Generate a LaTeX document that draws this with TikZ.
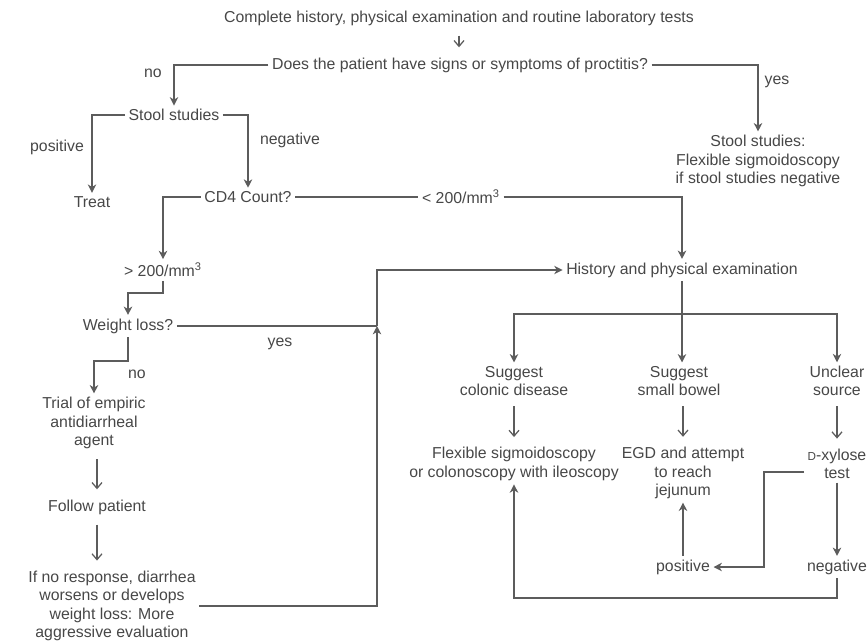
\documentclass[tikz,border=0pt]{standalone}
\usepackage{fontspec}
\setmainfont{Liberation Sans}
\usetikzlibrary{positioning}
\usetikzlibrary{calc}
\usetikzlibrary{arrows.meta}
\definecolor{ink}{HTML}{474747}
\definecolor{wire}{HTML}{5C5C5C}
\tikzset{
  txt/.style            = { text=ink, inner sep=2pt, font=\fontsize{9.5}{11.1}\selectfont },
  block/.style          = { txt, align=center },
  tag/.style            = { txt },
}
\tikzset{
  link/.style           = { draw=wire, line width=0.9pt },
  flow/.style           = { link, -{Stealth[length=5pt,width=5pt,inset=1.5pt]} },
  shortflow/.style      = { link, line width=0.75pt, -{Straight Barb[length=3.5pt,width=6pt]},
                            shorten >=4pt, shorten <=4pt },
  plain/.style          = { link, - }
}
\newcommand{\dsc}{{\fontsize{7}{8}\selectfont D}}

\begin{document}
\begin{tikzpicture}[x=0.6pt, y=-0.6pt]
  \useasboundingbox (0,0) rectangle (868,641);

  \node (start)    [block] at (459,18)  {Complete history, physical examination and routine laboratory tests};
  \node (proctq)   [block] at (460,65)  {Does the patient have signs or symptoms of proctitis?};
  \node (stool)    [block] at (174,115) {Stool studies};
  \node (proctyes) [block] at (758,161) {Stool studies:\\Flexible sigmoidoscopy\\if stool studies negative};
  \node (treat)    [block] at (92,202)  {Treat};
  \node (cd4)      [block] at (248,197) {CD4 Count?};
  \node (low)      [block] at (461,197) {< 200/mm\textsuperscript{3}};
  \node (high)     [block] at (163,270) {> 200/mm\textsuperscript{3}};
  \node (hist)     [block] at (682,270) {History and physical examination};
  \node (weight)   [block] at (128,326) {Weight loss?};
  \node (colonic)  [block] at (514,381) {Suggest\\colonic disease};
  \node (bowel)    [block] at (679,381) {Suggest\\small bowel};
  \node (unclear)  [block] at (837,381) {Unclear\\source};
  \node (trial)    [block] at (94,423)  {Trial of empiric\\antidiarrheal\\agent};
  \node (flex)     [block] at (514,464) {Flexible sigmoidoscopy\\or colonoscopy with ileoscopy};
  \node (egd)      [block] at (683,473) {EGD and attempt\\to reach\\jejunum};
  \node (xylose)   [block] at (837,464) {\dsc-xylose\\test};
  \node (follow)   [block] at (97,507)  {Follow patient};
  \node (xpos)     [block] at (683,567) {positive};
  \node (xneg)     [block] at (837,567) {negative};
  \node (noresp)   [block] at (112,606) {If no response, diarrhea\\worsens or develops\\weight loss: More\\aggressive evaluation};

  \node (no1)   [tag] at (153,73)  {no};
  \node (yes1)  [tag] at (777,82)  {yes};
  \node (pos1)  [tag] at (57,147)  {positive};
  \node (neg1)  [tag] at (290,140) {negative};
  \node (yes2)  [tag] at (280,344) {yes};
  \node (no2)   [tag] at (137,374) {no};

  \coordinate (join) at (377,326);
  \coordinate (fork) at (682,314);

  \draw [shortflow] (start)        -- (proctq.north -| start);
  \draw [flow]      (proctq.west)  -| (stool.north);
  \draw [flow]      (proctq.east)  -| (proctyes.north);
  \draw [flow]      (stool.west)   -| (treat.north);
  \draw [flow]      (stool.east)   -| (cd4.north);
  \draw [plain]     (cd4.east)     -- (low.west);
  \draw [flow]      (low.east)     -| (hist.north);
  \draw [flow]      (cd4.west)     -| (high.north);
  \draw [flow]      (high.south)   -- ++(0,12) -| (weight.north);
  \draw [flow]      (weight.south) -- ++(0,24) -| (trial.north);
  \draw [shortflow] (follow.north |- trial.south) -- (follow.north);
  \draw [shortflow] (follow.south) -- (follow.south |- noresp.north);
  \draw [plain]     (weight.east)  -- (weight.east -| join);
  \draw [flow]      (weight.east -| join) |- (hist.west);
  \draw [flow]      (noresp.east)  -| (weight.east -| join);

  \draw [flow]      (hist.south)   -- (hist.south |- bowel.north);
  \draw [flow]      (fork)         -| (colonic.north);
  \draw [flow]      (fork)         -| (unclear.north);
  \draw [shortflow] (colonic)      -- (flex);
  \draw [shortflow] (egd.north |- bowel.south) -- (egd.north);
  \draw [shortflow] (unclear)      -- (xylose);

  \draw [flow]      ([yshift=-4.8pt]xylose.west) -- ++(-40,0) |- (xpos.east);
  \draw [flow]      (xpos.north)   -- (egd.south);
  \draw [flow]      (xylose.south) -- (xneg.north);
  \draw [flow]      (xneg.south)   -- ++(0,20) -| (flex.south);
\end{tikzpicture}
\end{document}
